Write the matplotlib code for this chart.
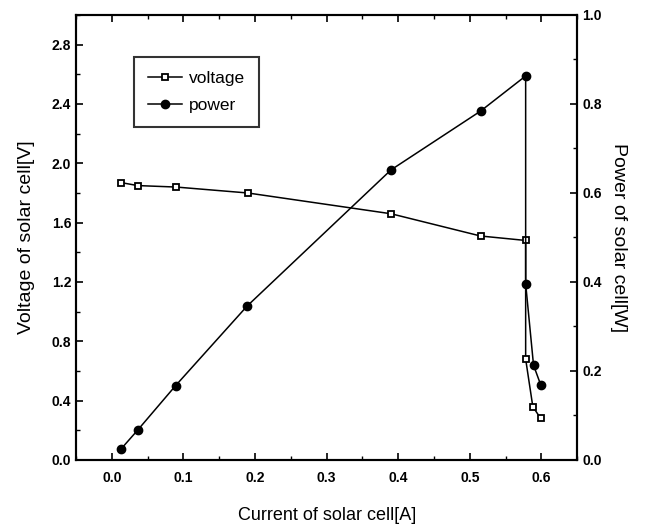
import numpy as np
import matplotlib.pyplot as plt
from matplotlib.ticker import MultipleLocator

plt.rcParams['font.family'] = ['Liberation Sans Narrow', 'Liberation Sans', 'DejaVu Sans']

# data
current = [0.013, 0.036, 0.090, 0.190, 0.390, 0.515, 0.578, 0.578, 0.588, 0.599]
voltage = [1.87, 1.85, 1.84, 1.80, 1.66, 1.51, 1.48, 0.68, 0.36, 0.28]
power_current = [0.013, 0.036, 0.089, 0.189, 0.390, 0.515, 0.578, 0.578, 0.589, 0.599]
power = [0.025, 0.067, 0.167, 0.346, 0.652, 0.784, 0.863, 0.396, 0.213, 0.169]

fig = plt.figure(figsize=(6.5, 5.26), dpi=100)
ax = fig.add_axes([0.117, 0.1255, 0.771, 0.846])
ax2 = ax.twinx()

l1, = ax.plot(current, voltage, '-', color='black', lw=1.1, marker='s', ms=5,
              mfc='white', mec='black', mew=1.3, label='voltage')
l2, = ax2.plot(power_current, power, '-', color='black', lw=1.1, marker='o', ms=6,
               mfc='black', mec='black', label='power')

ax.set_xlim(-0.05, 0.65)
ax.set_ylim(0, 3.0)
ax2.set_ylim(0, 1.0)

ax.xaxis.set_major_locator(MultipleLocator(0.1))
ax.xaxis.set_minor_locator(MultipleLocator(0.05))
ax.yaxis.set_major_locator(MultipleLocator(0.4))
ax.yaxis.set_minor_locator(MultipleLocator(0.2))
ax2.yaxis.set_major_locator(MultipleLocator(0.2))
ax2.yaxis.set_minor_locator(MultipleLocator(0.1))

ax.set_xticks(np.arange(0, 0.61, 0.1))
ax.set_yticks(np.arange(0, 2.81, 0.4))
ax.xaxis.set_major_formatter(plt.FuncFormatter(lambda v, p: f'{v:.1f}'))
ax.yaxis.set_major_formatter(plt.FuncFormatter(lambda v, p: f'{v:.1f}'))
ax2.yaxis.set_major_formatter(plt.FuncFormatter(lambda v, p: f'{v:.1f}'))

ax.tick_params(axis='x', which='both', direction='in', top=True, labelsize=10, pad=8)
ax.tick_params(axis='y', which='both', direction='in', right=False, labelsize=10)
ax.tick_params(which='major', length=5, width=1.2)
ax.tick_params(which='minor', length=3, width=1)
ax2.tick_params(axis='y', which='both', direction='in', labelsize=10)
ax2.tick_params(which='major', length=5, width=1.2)
ax2.tick_params(which='minor', length=3, width=1)

for s in ax.spines.values():
    s.set_linewidth(1.5)
for s in ax2.spines.values():
    s.set_linewidth(1.5)

for t in ax.get_xticklabels() + ax.get_yticklabels() + ax2.get_yticklabels():
    t.set_fontweight('bold')

ax.set_xlabel('Current of solar cell[A]', fontsize=13, labelpad=16)
ax.set_ylabel('Voltage of solar cell[V]', fontsize=14, labelpad=12)
ax2.set_ylabel('Power of solar cell[W]', fontsize=14, rotation=270, labelpad=18)

leg = ax.legend(handles=[l1, l2], loc='upper left', bbox_to_anchor=(0.098, 0.925),
                fontsize=12.5, frameon=True, fancybox=False, edgecolor='black',
                handlelength=2.0, handletextpad=0.4, borderpad=0.8, labelspacing=0.7)
leg.get_frame().set_linewidth(1.5)

fig.savefig('out.png', dpi=100)
